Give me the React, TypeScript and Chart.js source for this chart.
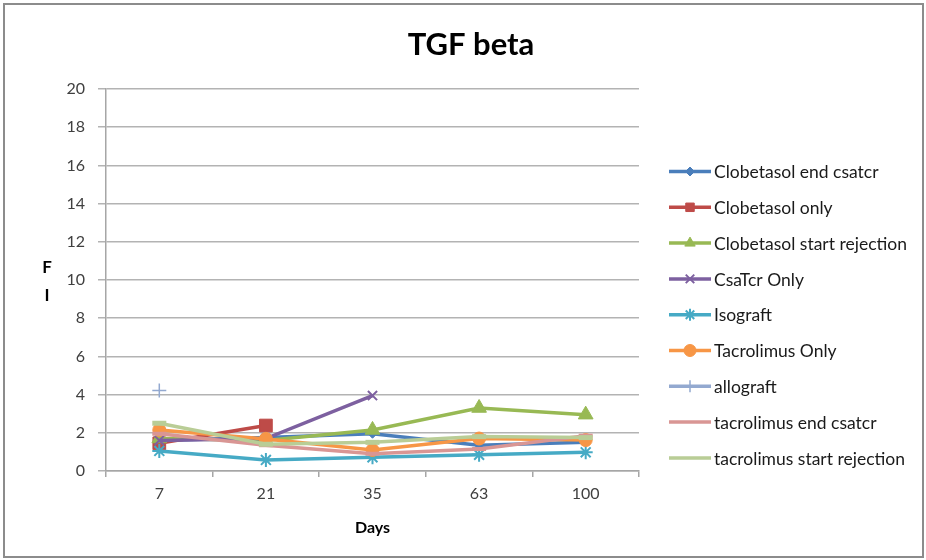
import React, { useEffect, useRef } from 'react';
import { Chart, registerables, PointElement } from 'chart.js';

Chart.register(...registerables);

// Sampling days (x axis categories)
const days = ['7', '21', '35', '63', '100'];

// Y axis range
const yMin = 0;
const yMax = 20;
const yStep = 2;

// Series names, in legend order
const seriesNames = [
  'Clobetasol end csatcr',
  'Clobetasol only',
  'Clobetasol start rejection',
  'CsaTcr Only',
  'Isograft',
  'Tacrolimus Only',
  'allograft',
  'tacrolimus end csatcr',
  'tacrolimus start rejection',
];

// Fold increase of TGF beta per group
const clobetasolEndCsatcr = [1.6, 1.75, 1.95, 1.35, 1.5];
const clobetasolOnly = [1.45, 2.38, null, null, null];
const clobetasolStartRejection = [1.7, 1.6, 2.15, 3.3, 2.95];
const csaTcrOnly = [1.6, 1.7, 3.95, null, null];
const isograft = [1.05, 0.58, 0.72, 0.85, 0.98];
const tacrolimusOnly = [2.15, 1.68, 1.1, 1.7, 1.62];
const allograft = [4.22, null, null, null, null];
const tacrolimusEndCsatcr = [1.95, 1.35, 0.9, 1.15, 1.85];
const tacrolimusStartRejection = [2.5, 1.4, 1.5, 1.8, 1.75];

const seriesValues = [
  clobetasolEndCsatcr,
  clobetasolOnly,
  clobetasolStartRejection,
  csaTcrOnly,
  isograft,
  tacrolimusOnly,
  allograft,
  tacrolimusEndCsatcr,
  tacrolimusStartRejection,
];

const seriesColors = [
  '#4A7EBB',
  '#BE4B48',
  '#98B954',
  '#7D60A0',
  '#46AAC5',
  '#F79646',
  '#93A9D0',
  '#D99694',
  '#B9CD96',
];

const markerStyles = [
  { pointStyle: 'rectRot', radius: 4.5, borderWidth: 1 },
  { pointStyle: 'rect', radius: 9, borderWidth: 1 },
  { pointStyle: 'triangle', radius: 8.5, borderWidth: 1 },
  { pointStyle: 'crossRot', radius: 6.5, borderWidth: 2 },
  { pointStyle: 'star', radius: 7, borderWidth: 2 },
  { pointStyle: 'circle', radius: 6.5, borderWidth: 1 },
  { pointStyle: 'cross', radius: 7, borderWidth: 1.5 },
  { pointStyle: 'line', radius: 7, borderWidth: 4 },
  { pointStyle: 'line', radius: 7, borderWidth: 5 },
];

const FONT = 'Lato, "Open Sans", sans-serif';

const decorations = {
  id: 'decorations',
  afterDraw(chart: any) {
    const ctx = chart.ctx as CanvasRenderingContext2D;
    const area = chart.chartArea;
    ctx.save();

    // Title
    ctx.fillStyle = '#000';
    ctx.textAlign = 'center';
    ctx.textBaseline = 'middle';
    ctx.font = `bold 31px ${FONT}`;
    ctx.fillText('TGF beta', 471, 45);

    // Y axis title, stacked letters
    ctx.font = `bold 17px ${FONT}`;
    ctx.fillText('F', 47, 268);
    ctx.fillText('I', 47, 296);

    // X axis title
    ctx.font = `bold 16px ${FONT}`;
    ctx.fillText('Days', (area.left + area.right) / 2, 528);

    // Legend
    const lx0 = 669;
    const lx1 = 711;
    const ly0 = 171.5;
    const lstep = 35.8;
    ctx.textAlign = 'left';
    ctx.font = `17.5px ${FONT}`;
    seriesNames.forEach((name, i) => {
      const y = ly0 + i * lstep;
      ctx.strokeStyle = seriesColors[i];
      ctx.lineWidth = 3.5;
      ctx.lineCap = 'butt';
      ctx.beginPath();
      ctx.moveTo(lx0, y);
      ctx.lineTo(lx1, y);
      ctx.stroke();
      const m = markerStyles[i];
      const pt: any = new PointElement({});
      pt.x = (lx0 + lx1) / 2;
      pt.y = y;
      pt.options = {
        pointStyle: m.pointStyle,
        radius: m.pointStyle === 'line' ? 0 : Math.min(m.radius, 6),
        rotation: 0,
        borderWidth: m.borderWidth,
        borderColor: seriesColors[i],
        backgroundColor: seriesColors[i],
      };
      pt.draw(ctx);
      ctx.fillStyle = '#1a1a1a';
      ctx.fillText(name, 714, y + 1);
    });

    ctx.restore();
  },
};

export default function App() {
  const canvasRef = useRef<HTMLCanvasElement | null>(null);

  useEffect(() => {
    if (!canvasRef.current) return;
    const n = seriesNames.length;
    const chart = new Chart(canvasRef.current, {
      type: 'line',
      data: {
        labels: days,
        datasets: seriesNames.map((name, i) => ({
          label: name,
          data: seriesValues[i],
          borderColor: seriesColors[i],
          backgroundColor: seriesColors[i],
          borderWidth: 3.5,
          pointStyle: markerStyles[i].pointStyle as any,
          pointRadius: markerStyles[i].radius,
          pointBorderWidth: markerStyles[i].borderWidth,
          pointBorderColor: seriesColors[i],
          pointBackgroundColor: seriesColors[i],
          tension: 0,
          spanGaps: false,
          order: n - 1 - i,
        })),
      },
      options: {
        responsive: false,
        animation: false,
        events: [],
        layout: { padding: { left: 46, right: 287, top: 89, bottom: 29 } },
        plugins: {
          legend: { display: false },
          title: { display: false },
          tooltip: { enabled: false },
        },
        scales: {
          x: {
            type: 'category',
            offset: true,
            grid: {
              offset: true,
              drawOnChartArea: false,
              drawTicks: true,
              tickLength: 6,
              color: '#a6a6a6',
              lineWidth: 1.5,
            },
            border: { display: true, color: '#a6a6a6', width: 1.5 },
            ticks: {
              color: '#404040',
              font: { family: FONT, size: 16 },
              padding: 7,
            },
            afterFit: (s: any) => {
              s.height = 60;
            },
          },
          y: {
            min: yMin,
            max: yMax,
            ticks: {
              stepSize: yStep,
              color: '#404040',
              font: { family: FONT, size: 16 },
              padding: 13,
            },
            grid: {
              color: '#b3b3b3',
              lineWidth: 1.5,
              drawTicks: true,
              tickLength: 8,
            },
            border: { display: true, color: '#a6a6a6', width: 1.5 },
            afterFit: (s: any) => {
              s.width = 60;
            },
          },
        },
      },
      plugins: [decorations],
    });
    return () => chart.destroy();
  }, []);

  return (
    <div style={{ position: 'absolute', left: 0, top: 0, width: 926, height: 560, background: '#fff' }}>
      <canvas ref={canvasRef} width={926} height={560} style={{ display: 'block' }} />
      <div
        style={{
          position: 'absolute',
          left: 3,
          top: 3,
          width: 917,
          height: 551,
          border: '2px solid #8c8c8c',
          pointerEvents: 'none',
        }}
      />
    </div>
  );
}
